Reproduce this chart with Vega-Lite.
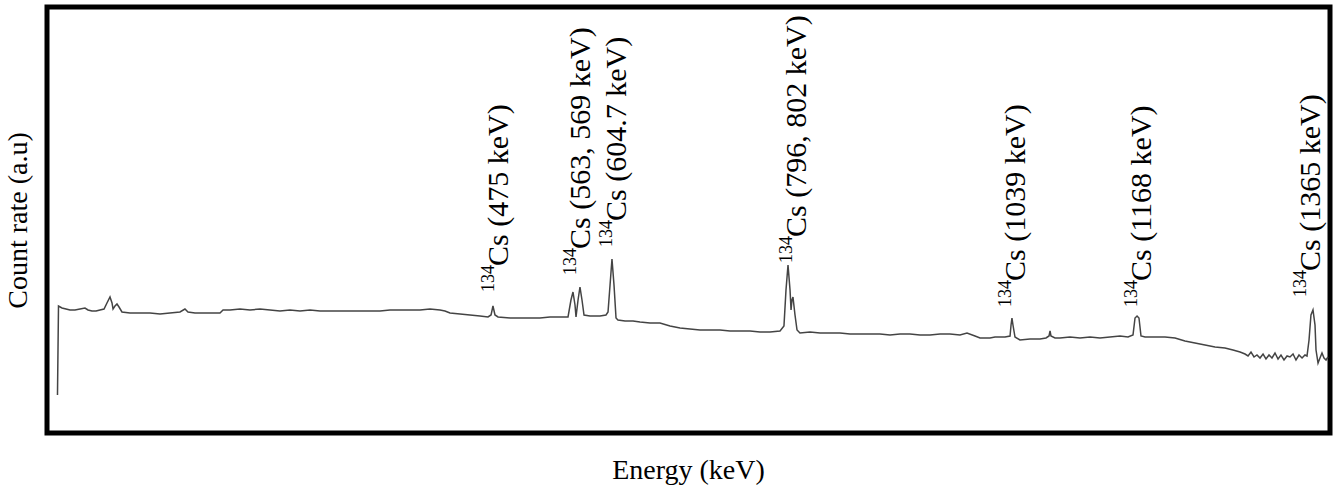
{
  "$schema": "https://vega.github.io/schema/vega-lite/v6.json",
  "autosize": {"type": "none"},
  "width": 1283,
  "height": 426,
  "padding": {"left": 47, "top": 7, "right": 3, "bottom": 55},
  "background": "white",
  "config": {
    "view": {"stroke": "black", "strokeWidth": 5}
  },
  "datasets": {
    "spectrum": [
      {"e": 1.4, "c": 38}, {"e": 2.5, "c": 127}, {"e": 6.3, "c": 125}, {"e": 10.7, "c": 124}, {"e": 15.0, "c": 123},
      {"e": 20.4, "c": 123}, {"e": 25.9, "c": 124}, {"e": 31.3, "c": 125}, {"e": 34.6, "c": 123}, {"e": 38.9, "c": 122},
      {"e": 43.3, "c": 122}, {"e": 47.6, "c": 123}, {"e": 52.0, "c": 124}, {"e": 55.2, "c": 130}, {"e": 58.5, "c": 136},
      {"e": 60.7, "c": 130}, {"e": 61.8, "c": 124}, {"e": 63.9, "c": 127}, {"e": 66.1, "c": 129}, {"e": 68.3, "c": 126},
      {"e": 71.5, "c": 121}, {"e": 80.2, "c": 120}, {"e": 91.1, "c": 120}, {"e": 102.0, "c": 120}, {"e": 112.9, "c": 119},
      {"e": 123.7, "c": 120}, {"e": 134.6, "c": 121}, {"e": 140.0, "c": 124}, {"e": 143.3, "c": 121}, {"e": 150.9, "c": 120},
      {"e": 161.8, "c": 120}, {"e": 172.7, "c": 120}, {"e": 178.1, "c": 120}, {"e": 181.4, "c": 123}, {"e": 189.0, "c": 123},
      {"e": 199.8, "c": 124}, {"e": 210.7, "c": 123}, {"e": 221.6, "c": 124}, {"e": 232.5, "c": 123}, {"e": 243.3, "c": 122},
      {"e": 254.2, "c": 123}, {"e": 265.1, "c": 122}, {"e": 276.0, "c": 123}, {"e": 286.8, "c": 122}, {"e": 297.7, "c": 122},
      {"e": 308.6, "c": 122}, {"e": 319.5, "c": 122}, {"e": 330.3, "c": 122}, {"e": 341.2, "c": 122}, {"e": 352.1, "c": 122},
      {"e": 362.9, "c": 123}, {"e": 373.8, "c": 123}, {"e": 384.7, "c": 123}, {"e": 395.6, "c": 123}, {"e": 406.4, "c": 124},
      {"e": 417.3, "c": 123}, {"e": 422.7, "c": 122}, {"e": 428.2, "c": 120}, {"e": 439.1, "c": 119}, {"e": 449.9, "c": 118},
      {"e": 460.8, "c": 117}, {"e": 469.5, "c": 116}, {"e": 472.8, "c": 118}, {"e": 474.9, "c": 127}, {"e": 477.1, "c": 118},
      {"e": 480.4, "c": 116}, {"e": 493.4, "c": 115}, {"e": 504.3, "c": 115}, {"e": 515.2, "c": 115}, {"e": 526.0, "c": 115},
      {"e": 536.9, "c": 116}, {"e": 547.8, "c": 116}, {"e": 556.5, "c": 116}, {"e": 559.7, "c": 133}, {"e": 561.9, "c": 141},
      {"e": 564.1, "c": 128}, {"e": 565.2, "c": 116}, {"e": 567.4, "c": 133}, {"e": 569.5, "c": 146}, {"e": 571.7, "c": 133},
      {"e": 573.9, "c": 118}, {"e": 580.4, "c": 117}, {"e": 591.3, "c": 117}, {"e": 597.8, "c": 118}, {"e": 600.0, "c": 121},
      {"e": 602.2, "c": 148}, {"e": 604.3, "c": 174}, {"e": 606.5, "c": 148}, {"e": 608.7, "c": 115}, {"e": 610.8, "c": 113},
      {"e": 618.5, "c": 112}, {"e": 627.2, "c": 112}, {"e": 634.8, "c": 111}, {"e": 645.6, "c": 110}, {"e": 656.5, "c": 110},
      {"e": 667.4, "c": 107}, {"e": 678.3, "c": 105}, {"e": 689.1, "c": 104}, {"e": 700.0, "c": 103}, {"e": 710.9, "c": 103},
      {"e": 721.8, "c": 103}, {"e": 732.6, "c": 102}, {"e": 743.5, "c": 102}, {"e": 754.4, "c": 102}, {"e": 765.2, "c": 101},
      {"e": 776.1, "c": 101}, {"e": 787.0, "c": 102}, {"e": 791.3, "c": 107}, {"e": 793.5, "c": 143}, {"e": 795.7, "c": 168},
      {"e": 797.9, "c": 143}, {"e": 799.0, "c": 123}, {"e": 800.0, "c": 133}, {"e": 801.1, "c": 136}, {"e": 803.3, "c": 118},
      {"e": 805.5, "c": 103}, {"e": 808.7, "c": 100}, {"e": 819.6, "c": 101}, {"e": 830.5, "c": 100}, {"e": 841.4, "c": 100},
      {"e": 852.2, "c": 100}, {"e": 863.1, "c": 99}, {"e": 874.0, "c": 99}, {"e": 884.8, "c": 99}, {"e": 895.7, "c": 99},
      {"e": 906.6, "c": 98}, {"e": 917.5, "c": 99}, {"e": 928.3, "c": 99}, {"e": 939.2, "c": 98}, {"e": 950.1, "c": 98},
      {"e": 961.0, "c": 99}, {"e": 971.8, "c": 99}, {"e": 982.7, "c": 98}, {"e": 990.3, "c": 100}, {"e": 999.0, "c": 97},
      {"e": 1004.5, "c": 95}, {"e": 1009.9, "c": 95}, {"e": 1015.3, "c": 95}, {"e": 1020.8, "c": 96}, {"e": 1026.2, "c": 96},
      {"e": 1031.6, "c": 96}, {"e": 1037.1, "c": 97}, {"e": 1038.2, "c": 108}, {"e": 1039.2, "c": 115}, {"e": 1040.3, "c": 108},
      {"e": 1042.5, "c": 96}, {"e": 1047.9, "c": 93}, {"e": 1058.8, "c": 94}, {"e": 1069.7, "c": 94}, {"e": 1076.2, "c": 95},
      {"e": 1079.5, "c": 97}, {"e": 1080.6, "c": 102}, {"e": 1081.6, "c": 97}, {"e": 1086.0, "c": 95}, {"e": 1091.4, "c": 95},
      {"e": 1102.3, "c": 96}, {"e": 1113.2, "c": 95}, {"e": 1124.1, "c": 96}, {"e": 1134.9, "c": 95}, {"e": 1145.8, "c": 96},
      {"e": 1156.7, "c": 97}, {"e": 1165.4, "c": 96}, {"e": 1170.8, "c": 98}, {"e": 1173.0, "c": 115}, {"e": 1175.2, "c": 117},
      {"e": 1177.3, "c": 115}, {"e": 1179.5, "c": 97}, {"e": 1183.9, "c": 96}, {"e": 1194.7, "c": 96}, {"e": 1205.6, "c": 96},
      {"e": 1216.5, "c": 95}, {"e": 1227.3, "c": 92}, {"e": 1238.2, "c": 90}, {"e": 1249.1, "c": 88}, {"e": 1260.0, "c": 86},
      {"e": 1270.8, "c": 85}, {"e": 1279.5, "c": 83}, {"e": 1287.2, "c": 81}, {"e": 1292.6, "c": 79}, {"e": 1295.9, "c": 77},
      {"e": 1299.1, "c": 81}, {"e": 1302.4, "c": 76}, {"e": 1305.6, "c": 78}, {"e": 1308.9, "c": 75}, {"e": 1312.2, "c": 79},
      {"e": 1315.4, "c": 74}, {"e": 1318.7, "c": 78}, {"e": 1321.9, "c": 75}, {"e": 1325.2, "c": 80}, {"e": 1328.5, "c": 74},
      {"e": 1331.7, "c": 78}, {"e": 1335.0, "c": 73}, {"e": 1338.3, "c": 77}, {"e": 1341.5, "c": 76}, {"e": 1344.8, "c": 79},
      {"e": 1348.0, "c": 73}, {"e": 1351.3, "c": 78}, {"e": 1354.6, "c": 75}, {"e": 1357.8, "c": 78}, {"e": 1360.0, "c": 77},
      {"e": 1362.2, "c": 93}, {"e": 1364.3, "c": 118}, {"e": 1366.5, "c": 123}, {"e": 1368.7, "c": 108}, {"e": 1369.8, "c": 83},
      {"e": 1372.0, "c": 70}, {"e": 1374.1, "c": 75}, {"e": 1376.3, "c": 80}, {"e": 1378.5, "c": 75}, {"e": 1380.7, "c": 73},
      {"e": 1382.8, "c": 76}
    ],
    "labels": [
      {"e": 481.5, "c": 141, "iso": "134", "t": "Cs (475 keV)"},
      {"e": 570.7, "c": 158, "iso": "134", "t": "Cs (563, 569 keV)"},
      {"e": 609.8, "c": 186, "iso": "134", "t": "Cs (604.7 keV)"},
      {"e": 805.4, "c": 170, "iso": "134", "t": "Cs (796, 802 keV)"},
      {"e": 1043.5, "c": 126, "iso": "134", "t": "Cs (1039 keV)"},
      {"e": 1180.4, "c": 126, "iso": "134", "t": "Cs (1168 keV)"},
      {"e": 1364.0, "c": 136, "iso": "134", "t": "Cs (1365 keV)"}
    ]
  },
  "encoding": {
    "x": {
      "field": "e", "type": "quantitative",
      "scale": {"domain": [-10, 1385], "nice": false, "zero": false},
      "axis": {
        "title": "Energy (keV)", "labels": false, "ticks": false, "domain": false, "grid": false,
        "titleFont": "Times New Roman", "titleFontSize": 28, "titleFontWeight": "normal", "titleColor": "black",
        "titleX": 641, "titleY": 37, "titleBaseline": "middle", "titleAlign": "center"
      }
    },
    "y": {
      "field": "c", "type": "quantitative",
      "scale": {"domain": [0, 426], "nice": false, "zero": false},
      "axis": {
        "title": "Count rate (a.u)", "labels": false, "ticks": false, "domain": false, "grid": false,
        "titleFont": "Times New Roman", "titleFontSize": 28, "titleFontWeight": "normal", "titleColor": "black",
        "titleX": -29, "titleY": 213, "titleAngle": 270, "titleBaseline": "middle", "titleAlign": "center"
      }
    }
  },
  "layer": [
    {
      "data": {"name": "spectrum"},
      "mark": {"type": "line", "color": "#444444", "strokeWidth": 1.5, "clip": true}
    },
    {
      "data": {"name": "labels"},
      "mark": {"type": "text", "angle": 270, "align": "left", "baseline": "middle", "font": "Times New Roman", "fontSize": 18, "dy": -10, "color": "black"},
      "encoding": {"text": {"field": "iso"}}
    },
    {
      "data": {"name": "labels"},
      "mark": {"type": "text", "angle": 270, "align": "left", "baseline": "middle", "font": "Times New Roman", "fontSize": 30, "dx": 26, "color": "black"},
      "encoding": {"text": {"field": "t"}}
    }
  ]
}
